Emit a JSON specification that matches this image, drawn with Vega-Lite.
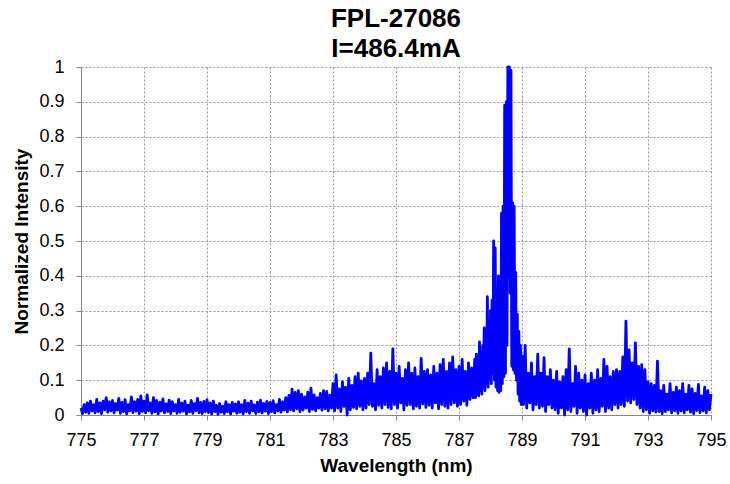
{
  "$schema": "https://vega.github.io/schema/vega-lite/v6.json",
  "width": 630,
  "height": 348,
  "autosize": {"type": "none"},
  "padding": {"left": 81, "top": 67, "right": 19, "bottom": 69},
  "background": "white",
  "config": {"view": {"stroke": null}, "font": "Liberation Sans"},
  "title": {"text": ["FPL-27086", "I=486.4mA"], "fontSize": 26, "fontWeight": "bold", "lineHeight": 30, "offset": -4, "anchor": "middle", "color": "black", "font": "Liberation Sans"},
  "data": {"values": [
{"w":775.00,"v":0.020},{"w":775.05,"v":0.004},{"w":775.10,"v":0.030},{"w":775.15,"v":0.008},{"w":775.20,"v":0.035},{"w":775.25,"v":0.005},{"w":775.30,"v":0.040},{"w":775.35,"v":0.012},{"w":775.40,"v":0.030},{"w":775.45,"v":0.006},
{"w":775.50,"v":0.045},{"w":775.55,"v":0.010},{"w":775.60,"v":0.035},{"w":775.65,"v":0.004},{"w":775.70,"v":0.040},{"w":775.75,"v":0.015},{"w":775.80,"v":0.050},{"w":775.85,"v":0.008},{"w":775.90,"v":0.038},{"w":775.95,"v":0.012},
{"w":776.00,"v":0.042},{"w":776.05,"v":0.006},{"w":776.10,"v":0.033},{"w":776.15,"v":0.014},{"w":776.20,"v":0.048},{"w":776.25,"v":0.005},{"w":776.30,"v":0.036},{"w":776.35,"v":0.010},{"w":776.40,"v":0.044},{"w":776.45,"v":0.003},
{"w":776.50,"v":0.030},{"w":776.55,"v":0.012},{"w":776.60,"v":0.052},{"w":776.65,"v":0.007},{"w":776.70,"v":0.038},{"w":776.75,"v":0.011},{"w":776.80,"v":0.045},{"w":776.85,"v":0.004},{"w":776.90,"v":0.055},{"w":776.95,"v":0.010},
{"w":777.00,"v":0.040},{"w":777.05,"v":0.006},{"w":777.10,"v":0.058},{"w":777.15,"v":0.012},{"w":777.20,"v":0.035},{"w":777.25,"v":0.005},{"w":777.30,"v":0.050},{"w":777.35,"v":0.009},{"w":777.40,"v":0.042},{"w":777.45,"v":0.003},
{"w":777.50,"v":0.037},{"w":777.55,"v":0.011},{"w":777.60,"v":0.046},{"w":777.65,"v":0.006},{"w":777.70,"v":0.032},{"w":777.75,"v":0.010},{"w":777.80,"v":0.043},{"w":777.85,"v":0.004},{"w":777.90,"v":0.038},{"w":777.95,"v":0.012},
{"w":778.00,"v":0.030},{"w":778.05,"v":0.005},{"w":778.10,"v":0.045},{"w":778.15,"v":0.008},{"w":778.20,"v":0.034},{"w":778.25,"v":0.011},{"w":778.30,"v":0.040},{"w":778.35,"v":0.003},{"w":778.40,"v":0.028},{"w":778.45,"v":0.009},
{"w":778.50,"v":0.042},{"w":778.55,"v":0.005},{"w":778.60,"v":0.033},{"w":778.65,"v":0.012},{"w":778.70,"v":0.048},{"w":778.75,"v":0.006},{"w":778.80,"v":0.036},{"w":778.85,"v":0.004},{"w":778.90,"v":0.039},{"w":778.95,"v":0.010},
{"w":779.00,"v":0.044},{"w":779.05,"v":0.007},{"w":779.10,"v":0.035},{"w":779.15,"v":0.003},{"w":779.20,"v":0.040},{"w":779.25,"v":0.010},{"w":779.30,"v":0.028},{"w":779.35,"v":0.002},{"w":779.40,"v":0.033},{"w":779.45,"v":0.008},
{"w":779.50,"v":0.025},{"w":779.55,"v":0.004},{"w":779.60,"v":0.038},{"w":779.65,"v":0.009},{"w":779.70,"v":0.030},{"w":779.75,"v":0.003},{"w":779.80,"v":0.036},{"w":779.85,"v":0.011},{"w":779.90,"v":0.032},{"w":779.95,"v":0.005},
{"w":780.00,"v":0.038},{"w":780.05,"v":0.008},{"w":780.10,"v":0.030},{"w":780.15,"v":0.003},{"w":780.20,"v":0.042},{"w":780.25,"v":0.010},{"w":780.30,"v":0.034},{"w":780.35,"v":0.005},{"w":780.40,"v":0.040},{"w":780.45,"v":0.012},
{"w":780.50,"v":0.029},{"w":780.55,"v":0.004},{"w":780.60,"v":0.037},{"w":780.65,"v":0.009},{"w":780.70,"v":0.043},{"w":780.75,"v":0.006},{"w":780.80,"v":0.033},{"w":780.85,"v":0.011},{"w":780.90,"v":0.039},{"w":780.95,"v":0.004},
{"w":781.00,"v":0.036},{"w":781.05,"v":0.010},{"w":781.10,"v":0.041},{"w":781.15,"v":0.006},{"w":781.20,"v":0.030},{"w":781.25,"v":0.012},{"w":781.30,"v":0.045},{"w":781.35,"v":0.008},{"w":781.40,"v":0.038},{"w":781.45,"v":0.014},
{"w":781.50,"v":0.050},{"w":781.55,"v":0.009},{"w":781.60,"v":0.056},{"w":781.65,"v":0.015},{"w":781.70,"v":0.074},{"w":781.75,"v":0.012},{"w":781.80,"v":0.065},{"w":781.85,"v":0.018},{"w":781.90,"v":0.070},{"w":781.95,"v":0.010},
{"w":782.00,"v":0.060},{"w":782.05,"v":0.014},{"w":782.10,"v":0.052},{"w":782.15,"v":0.020},{"w":782.20,"v":0.066},{"w":782.25,"v":0.010},{"w":782.30,"v":0.077},{"w":782.35,"v":0.016},{"w":782.40,"v":0.058},{"w":782.45,"v":0.012},
{"w":782.50,"v":0.050},{"w":782.55,"v":0.020},{"w":782.60,"v":0.062},{"w":782.65,"v":0.014},{"w":782.70,"v":0.070},{"w":782.75,"v":0.018},{"w":782.80,"v":0.068},{"w":782.85,"v":0.012},{"w":782.90,"v":0.057},{"w":782.95,"v":0.020},
{"w":783.00,"v":0.090},{"w":783.05,"v":0.012},{"w":783.10,"v":0.115},{"w":783.15,"v":0.020},{"w":783.20,"v":0.075},{"w":783.25,"v":0.010},{"w":783.30,"v":0.095},{"w":783.35,"v":0.025},{"w":783.40,"v":0.080},{"w":783.45,"v":0.000},
{"w":783.50,"v":0.105},{"w":783.55,"v":0.015},{"w":783.60,"v":0.085},{"w":783.65,"v":0.022},{"w":783.70,"v":0.110},{"w":783.75,"v":0.018},{"w":783.80,"v":0.120},{"w":783.85,"v":0.025},{"w":783.90,"v":0.098},{"w":783.95,"v":0.015},
{"w":784.00,"v":0.105},{"w":784.05,"v":0.020},{"w":784.10,"v":0.120},{"w":784.15,"v":0.030},{"w":784.20,"v":0.178},{"w":784.25,"v":0.025},{"w":784.30,"v":0.090},{"w":784.35,"v":0.015},{"w":784.40,"v":0.130},{"w":784.45,"v":0.028},
{"w":784.50,"v":0.110},{"w":784.55,"v":0.020},{"w":784.60,"v":0.135},{"w":784.65,"v":0.030},{"w":784.70,"v":0.150},{"w":784.75,"v":0.022},{"w":784.80,"v":0.125},{"w":784.85,"v":0.018},{"w":784.90,"v":0.190},{"w":784.95,"v":0.030},
{"w":785.00,"v":0.120},{"w":785.05,"v":0.020},{"w":785.10,"v":0.140},{"w":785.15,"v":0.035},{"w":785.20,"v":0.105},{"w":785.25,"v":0.015},{"w":785.30,"v":0.130},{"w":785.35,"v":0.028},{"w":785.40,"v":0.150},{"w":785.45,"v":0.030},
{"w":785.50,"v":0.120},{"w":785.55,"v":0.018},{"w":785.60,"v":0.135},{"w":785.65,"v":0.025},{"w":785.70,"v":0.110},{"w":785.75,"v":0.020},{"w":785.80,"v":0.163},{"w":785.85,"v":0.032},{"w":785.90,"v":0.125},{"w":785.95,"v":0.022},
{"w":786.00,"v":0.130},{"w":786.05,"v":0.028},{"w":786.10,"v":0.115},{"w":786.15,"v":0.020},{"w":786.20,"v":0.140},{"w":786.25,"v":0.035},{"w":786.30,"v":0.120},{"w":786.35,"v":0.018},{"w":786.40,"v":0.145},{"w":786.45,"v":0.030},
{"w":786.50,"v":0.160},{"w":786.55,"v":0.025},{"w":786.60,"v":0.125},{"w":786.65,"v":0.020},{"w":786.70,"v":0.150},{"w":786.75,"v":0.030},{"w":786.80,"v":0.167},{"w":786.85,"v":0.035},{"w":786.90,"v":0.130},{"w":786.95,"v":0.025},
{"w":787.00,"v":0.140},{"w":787.05,"v":0.030},{"w":787.10,"v":0.160},{"w":787.15,"v":0.040},{"w":787.20,"v":0.125},{"w":787.25,"v":0.028},{"w":787.30,"v":0.150},{"w":787.35,"v":0.045},{"w":787.40,"v":0.135},{"w":787.45,"v":0.050},
{"w":787.500,"v":0.160},{"w":787.525,"v":0.050},{"w":787.550,"v":0.175},{"w":787.575,"v":0.060},{"w":787.600,"v":0.140},{"w":787.625,"v":0.055},{"w":787.650,"v":0.210},{"w":787.675,"v":0.070},{"w":787.700,"v":0.180},{"w":787.725,"v":0.060},
{"w":787.750,"v":0.200},{"w":787.775,"v":0.080},{"w":787.800,"v":0.250},{"w":787.825,"v":0.070},{"w":787.850,"v":0.220},{"w":787.875,"v":0.090},{"w":787.900,"v":0.340},{"w":787.925,"v":0.080},{"w":787.950,"v":0.270},{"w":787.975,"v":0.100},
{"w":788.000,"v":0.300},{"w":788.025,"v":0.090},{"w":788.050,"v":0.330},{"w":788.075,"v":0.120},{"w":788.100,"v":0.500},{"w":788.125,"v":0.100},{"w":788.150,"v":0.480},{"w":788.175,"v":0.080},{"w":788.200,"v":0.360},{"w":788.225,"v":0.070},
{"w":788.250,"v":0.400},{"w":788.275,"v":0.065},{"w":788.300,"v":0.330},{"w":788.325,"v":0.070},{"w":788.350,"v":0.580},{"w":788.375,"v":0.090},{"w":788.400,"v":0.600},{"w":788.425,"v":0.110},{"w":788.450,"v":0.890},{"w":788.475,"v":0.120},
{"w":788.500,"v":0.900},{"w":788.525,"v":0.200},{"w":788.550,"v":1.000},{"w":788.575,"v":0.400},{"w":788.600,"v":1.000},{"w":788.625,"v":0.350},{"w":788.650,"v":0.990},{"w":788.675,"v":0.140},{"w":788.700,"v":0.610},{"w":788.725,"v":0.130},
{"w":788.750,"v":0.600},{"w":788.775,"v":0.120},{"w":788.800,"v":0.410},{"w":788.825,"v":0.100},{"w":788.850,"v":0.290},{"w":788.875,"v":0.060},{"w":788.900,"v":0.240},{"w":788.925,"v":0.040},{"w":788.950,"v":0.200},{"w":788.975,"v":0.030},
{"w":789.00,"v":0.170},{"w":789.05,"v":0.030},{"w":789.10,"v":0.200},{"w":789.15,"v":0.020},{"w":789.20,"v":0.120},{"w":789.25,"v":0.035},{"w":789.30,"v":0.150},{"w":789.35,"v":0.015},{"w":789.40,"v":0.110},{"w":789.45,"v":0.030},
{"w":789.50,"v":0.175},{"w":789.55,"v":0.020},{"w":789.60,"v":0.120},{"w":789.65,"v":0.025},{"w":789.70,"v":0.165},{"w":789.75,"v":0.010},{"w":789.80,"v":0.110},{"w":789.85,"v":0.030},{"w":789.90,"v":0.130},{"w":789.95,"v":0.020},
{"w":790.00,"v":0.100},{"w":790.05,"v":0.015},{"w":790.10,"v":0.125},{"w":790.15,"v":0.005},{"w":790.20,"v":0.095},{"w":790.25,"v":0.020},{"w":790.30,"v":0.110},{"w":790.35,"v":0.000},{"w":790.40,"v":0.130},{"w":790.45,"v":0.015},
{"w":790.50,"v":0.190},{"w":790.55,"v":0.010},{"w":790.60,"v":0.090},{"w":790.65,"v":0.025},{"w":790.70,"v":0.140},{"w":790.75,"v":0.005},{"w":790.80,"v":0.120},{"w":790.85,"v":0.020},{"w":790.90,"v":0.100},{"w":790.95,"v":0.010},
{"w":791.00,"v":0.115},{"w":791.05,"v":0.000},{"w":791.10,"v":0.090},{"w":791.15,"v":0.020},{"w":791.20,"v":0.120},{"w":791.25,"v":0.005},{"w":791.30,"v":0.100},{"w":791.35,"v":0.015},{"w":791.40,"v":0.130},{"w":791.45,"v":0.010},
{"w":791.50,"v":0.105},{"w":791.55,"v":0.025},{"w":791.60,"v":0.160},{"w":791.65,"v":0.010},{"w":791.70,"v":0.140},{"w":791.75,"v":0.020},{"w":791.80,"v":0.110},{"w":791.85,"v":0.015},{"w":791.90,"v":0.125},{"w":791.95,"v":0.030},
{"w":792.00,"v":0.130},{"w":792.05,"v":0.020},{"w":792.10,"v":0.125},{"w":792.15,"v":0.030},{"w":792.20,"v":0.167},{"w":792.25,"v":0.025},{"w":792.30,"v":0.270},{"w":792.35,"v":0.040},{"w":792.40,"v":0.187},{"w":792.45,"v":0.035},
{"w":792.50,"v":0.150},{"w":792.55,"v":0.045},{"w":792.60,"v":0.207},{"w":792.65,"v":0.030},{"w":792.70,"v":0.140},{"w":792.75,"v":0.020},{"w":792.80,"v":0.145},{"w":792.85,"v":0.010},{"w":792.90,"v":0.130},{"w":792.95,"v":0.015},
{"w":793.00,"v":0.095},{"w":793.05,"v":0.005},{"w":793.10,"v":0.090},{"w":793.15,"v":0.012},{"w":793.20,"v":0.085},{"w":793.25,"v":0.008},{"w":793.30,"v":0.155},{"w":793.35,"v":0.010},{"w":793.40,"v":0.070},{"w":793.45,"v":0.004},
{"w":793.50,"v":0.085},{"w":793.55,"v":0.010},{"w":793.60,"v":0.060},{"w":793.65,"v":0.015},{"w":793.70,"v":0.090},{"w":793.75,"v":0.006},{"w":793.80,"v":0.065},{"w":793.85,"v":0.012},{"w":793.90,"v":0.080},{"w":793.95,"v":0.005},
{"w":794.00,"v":0.070},{"w":794.05,"v":0.012},{"w":794.10,"v":0.090},{"w":794.15,"v":0.006},{"w":794.20,"v":0.060},{"w":794.25,"v":0.015},{"w":794.30,"v":0.085},{"w":794.35,"v":0.008},{"w":794.40,"v":0.075},{"w":794.45,"v":0.004},
{"w":794.50,"v":0.062},{"w":794.55,"v":0.013},{"w":794.60,"v":0.088},{"w":794.65,"v":0.007},{"w":794.70,"v":0.055},{"w":794.75,"v":0.012},{"w":794.80,"v":0.080},{"w":794.85,"v":0.006},{"w":794.90,"v":0.070},{"w":794.95,"v":0.015},
{"w":795.00,"v":0.060}
  ]},
  "mark": {"type": "line", "color": "#0000FF", "strokeWidth": 2.8, "strokeJoin": "round"},
  "encoding": {
    "x": {"field": "w", "type": "quantitative", "sort": null,
      "scale": {"domain": [775, 795], "nice": false, "zero": false},
      "axis": {"values": [775, 777, 779, 781, 783, 785, 787, 789, 791, 793, 795], "format": "d", "labelFlush": false, "labelOverlap": false,
        "title": "Wavelength (nm)", "titleFont": "Liberation Sans", "titleFontSize": 19, "titleFontWeight": "bold", "titleColor": "black", "titlePadding": 7,
        "labelFont": "Liberation Sans", "labelFontSize": 18, "labelColor": "black", "labelPadding": 11,
        "tickSize": 5, "tickColor": "#888888", "domainColor": "#888888",
        "grid": true, "gridColor": "#999999", "gridDash": [2, 2], "gridWidth": 1}},
    "y": {"field": "v", "type": "quantitative",
      "scale": {"domain": [0, 1], "nice": false, "zero": true},
      "axis": {"values": [0, 0.1, 0.2, 0.3, 0.4, 0.5, 0.6, 0.7, 0.8, 0.9, 1], "format": "~g", "labelFlush": false, "labelOverlap": false,
        "title": "Normalized Intensity", "titleFont": "Liberation Sans", "titleFontSize": 19, "titleFontWeight": "bold", "titleColor": "black", "titlePadding": 7,
        "labelFont": "Liberation Sans", "labelFontSize": 18, "labelColor": "black", "labelPadding": 12,
        "tickSize": 5, "tickColor": "#888888", "domainColor": "#888888",
        "grid": true, "gridColor": "#999999", "gridDash": [2, 2], "gridWidth": 1}}
  }
}
